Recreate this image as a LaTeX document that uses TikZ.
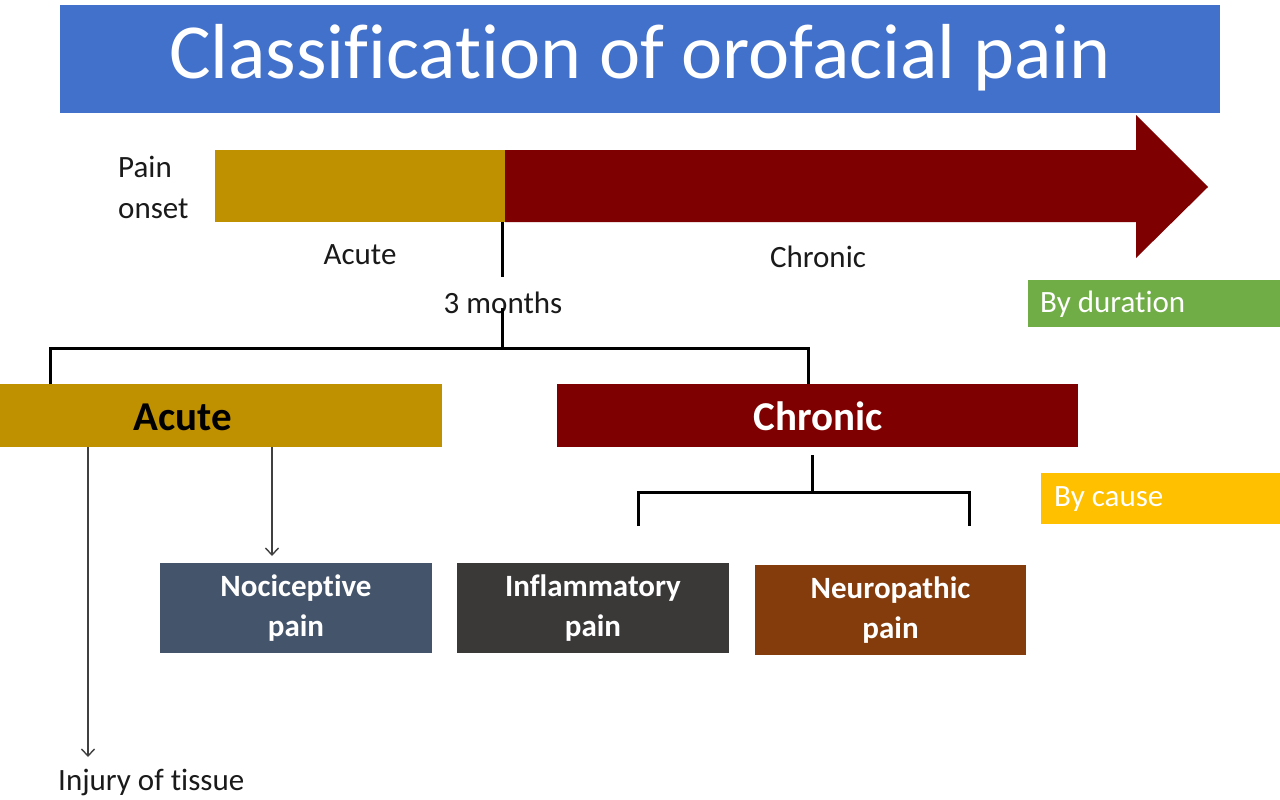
\documentclass[tikz,border=0pt]{standalone}
\usepackage{fontspec}
\setmainfont{Carlito}[Ligatures=NoCommon]
\usetikzlibrary{arrows.meta}
\definecolor{titleblue}{HTML}{4271CC}
\definecolor{gold}{HTML}{BF9000}
\definecolor{darkred}{HTML}{7F0000}
\definecolor{durgreen}{HTML}{70AD47}
\definecolor{causeyellow}{HTML}{FFC000}
\definecolor{nocicol}{HTML}{44546A}
\definecolor{inflcol}{HTML}{3B3838}
\definecolor{neurocol}{HTML}{843C0C}
\definecolor{txt}{HTML}{1A1A1A}
\tikzset{
  rectbox/.style={draw=none, inner sep=0pt, outer sep=0pt},
  lbl/.style={inner sep=0pt, text=txt, font=\fontsize{31}{36}\selectfont},
  boldlbl/.style={inner sep=0pt, font=\bfseries\fontsize{41}{46}\selectfont},
  catbox/.style={rectbox, text=white, align=center, minimum width=272pt, minimum height=90pt,
                 font=\bfseries\fontsize{31}{40}\selectfont},
  tagtxt/.style={inner sep=0pt, text=white, font=\fontsize{31}{36}\selectfont, anchor=west},
  conn/.style={draw=black, line width=3pt},
  arr/.style={draw=black!75, line width=1.4pt, -{Straight Barb[length=7pt,width=13pt,line width=1.4pt]}}
}
\begin{document}
\begin{tikzpicture}[x=1pt,y=-1pt]
\useasboundingbox (0,0) rectangle (1280,800);
\clip (0,0) rectangle (1280,800);
\fill[white] (0,0) rectangle (1280,800);

% title
\node[rectbox, fill=titleblue, minimum width=1160pt, minimum height=108pt, anchor=north west] (title) at (60,5) {};
\node[inner sep=0pt, text=white, font=\fontsize{78}{80}\selectfont] (titletxt) at (640,58) {Classification of orofacial pain};

% timeline
\node[lbl, align=left, anchor=west, font=\fontsize{31}{41}\selectfont] (onset) at (118,187) {Pain\\onset};
\node[rectbox, fill=gold, minimum width=290pt, minimum height=72pt, anchor=north west] (abar) at (215,150) {};
\fill[darkred] (505,150) -- (1136,150) -- (1136,115) -- (1208,187) -- (1136,258) -- (1136,222) -- (505,222) -- cycle;
\node[lbl] (acutelbl) at (360,255) {Acute};
\node[lbl] (chroniclbl) at (818,257) {Chronic};
\node[lbl] (months) at (503,303) {3 months};

% tags
\node[rectbox, fill=durgreen, minimum width=300pt, minimum height=47pt, anchor=north west] (dur) at (1028,280) {};
\node[tagtxt] (durtxt) at (1040,304) {By duration};
\node[rectbox, fill=causeyellow, minimum width=300pt, minimum height=51pt, anchor=north west] (cause) at (1041,473) {};
\node[tagtxt] (causetxt) at (1054,499) {By cause};

% main category boxes
\node[rectbox, fill=gold, minimum width=518pt, minimum height=63pt, anchor=north west] (acute) at (-76,384) {};
\node[boldlbl, text=black] (acutetxt) at (183,417) {Acute};
\node[rectbox, fill=darkred, minimum width=521pt, minimum height=63pt, anchor=north west] (chronic) at (557,384) {};
\node[boldlbl, text=white] (chronictxt) at (818,416) {Chronic};

% cause boxes
\node[catbox, fill=nocicol, anchor=north west] (noci) at (160,563) {Nociceptive\\pain};
\node[catbox, fill=inflcol, anchor=north west] (infl) at (457,563) {Inflammatory\\pain};
\node[catbox, fill=neurocol, anchor=north west, minimum width=271pt] (neuro) at (755,565) {Neuropathic\\pain};

\node[lbl, anchor=west] (injury) at (58,782) {Injury of tissue};

% connectors: duration split
\coordinate (b0) at (502,348);
\coordinate (b1) at (50,348);
\coordinate (b2) at (808,348);
\draw[conn] (abar.south east) ++(-3,0) -- ++(0,55);
\draw[conn] (months.south) ++(-1,-6) -- (b0);
\draw[conn] (acute.north -| b1) -- (b1) -- (b2) -- (chronic.north -| b2);

% chronic split
\coordinate (c0) at (812,492);
\coordinate (cl) at (638,492);
\coordinate (cr) at (969,492);
\draw[conn, shorten <=8pt] (chronic.south -| c0) -- (c0);
\draw[conn] (cl |- infl.north) ++(0,-37) -- (cl) -- (cr) -- ++(0,34);

% acute arrows
\coordinate (injtip) at (88,757);
\coordinate (na) at (272,447);
\draw[arr] (acute.south -| injtip) -- (injtip);
\draw[arr, shorten >=7pt] (na) -- (na |- noci.north);
\end{tikzpicture}
\end{document}
